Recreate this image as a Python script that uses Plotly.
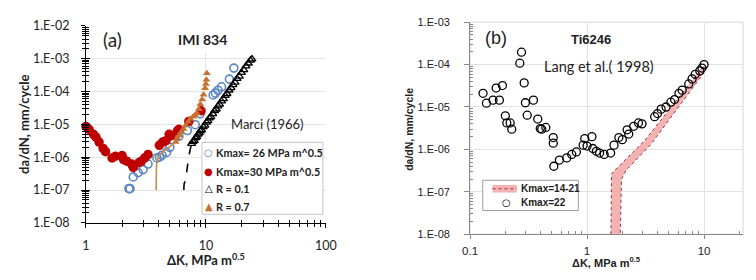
import plotly.graph_objects as go

W, H = 756, 280
def px(x): return x / W
def py(y): return 1 - y / H

# ---------------- data: panel (a) IMI 834 ----------------
k26_K = [2.28, 2.33, 2.48, 2.72, 2.99, 3.29, 3.9, 4.1, 4.3, 4.7, 5.0, 5.95, 7.0, 8.15, 8.95, 11.5, 12.0, 12.6, 13.5, 15.7, 17.1]
k26_da = [1.1e-7, 1.1e-7, 2.5e-7, 3.4e-7, 4.2e-7, 6.2e-7, 9.5e-7, 1.0e-6, 1.15e-6, 1.4e-6, 2.0e-6, 4.3e-6, 6.5e-6, 9.8e-6, 2.1e-5, 7.9e-5, 9.0e-5, 1.1e-4, 1.4e-4, 2.4e-4, 5.2e-4]

k30_K = [1.0, 1.06, 1.155, 1.21, 1.285, 1.39, 1.455, 1.65, 1.76, 2.0, 2.06, 2.19, 2.4, 2.48, 2.77, 2.9, 3.09, 3.29, 4.09, 4.36, 4.65, 4.94, 5.1, 5.78, 5.95, 7.2, 9.1]
k30_da = [8.7e-6, 7.1e-6, 5.0e-6, 4.1e-6, 2.9e-6, 1.86e-6, 1.48e-6, 9.5e-7, 1.07e-6, 1.12e-6, 8.5e-7, 7.6e-7, 6.2e-7, 4.9e-7, 6.9e-7, 7.6e-7, 9.5e-7, 1.2e-6, 2.3e-6, 2.9e-6, 3.2e-6, 5.0e-6, 4.5e-6, 6.3e-6, 7.1e-6, 1.23e-5, 2.6e-5]

r01_K = [7.6, 7.8, 8.0, 8.2, 8.4, 8.6, 8.8, 9.0, 9.2, 9.5, 9.8, 10.1, 10.4, 10.7, 11.0, 11.4, 11.8, 12.2, 12.6, 13.0, 13.5, 14.0, 14.5, 15.0, 15.6, 16.2, 16.8, 17.5, 18.2, 19.0, 19.8, 20.7, 21.6, 22.6, 23.5, 24.2]
r01_da = [2.6e-6, 3.0e-6, 3.2e-6, 3.9e-6, 4.2e-6, 5.0e-6, 5.4e-6, 6.3e-6, 6.8e-6, 8.4e-6, 9.4e-6, 1.15e-5, 1.28e-5, 1.55e-5, 1.7e-5, 2.1e-5, 2.6e-5, 2.9e-5, 3.6e-5, 4.1e-5, 5.1e-5, 6.0e-5, 7.5e-5, 8.6e-5, 1.1e-4, 1.3e-4, 1.6e-4, 1.9e-4, 2.5e-4, 2.9e-4, 3.8e-4, 4.6e-4, 6.0e-4, 7.3e-4, 9.0e-4, 9.8e-4]

r07_K = [5.6, 5.8, 6.0, 6.2, 6.5, 6.8, 7.1, 7.4, 7.8, 8.1, 8.4, 8.75, 9.0, 9.3, 9.55, 9.85, 10.0, 10.1, 10.2]
r07_da = [2.9e-6, 3.8e-6, 4.6e-6, 5.8e-6, 7.2e-6, 9.5e-6, 1.2e-5, 1.45e-5, 1.7e-5, 1.9e-5, 2.2e-5, 2.9e-5, 4.1e-5, 5.7e-5, 8.0e-5, 1.26e-4, 1.7e-4, 2.3e-4, 3.6e-4]

r07_line_K = [3.85, 3.86, 3.88, 3.95, 4.15, 4.5, 5.1, 5.6]
r07_line_da = [1.0e-7, 3.0e-7, 5.5e-7, 8.5e-7, 1.2e-6, 1.6e-6, 2.2e-6, 2.9e-6]

r01_line_K = [6.55, 6.6, 6.75, 6.97, 7.3, 7.6]
r01_line_da = [1.0e-7, 1.6e-7, 1.9e-7, 4.4e-7, 1.35e-6, 2.6e-6]

# ---------------- data: panel (b) Ti6246 ----------------
k22_K = [0.129, 0.138, 0.157, 0.167, 0.178, 0.189, 0.200, 0.206, 0.220, 0.227, 0.266, 0.275, 0.290, 0.297, 0.308,
         0.348, 0.379, 0.398, 0.41, 0.444, 0.514, 0.514, 0.52, 0.58, 0.67, 0.74, 0.81, 0.926, 0.955, 1.0, 1.1, 1.12,
         1.2, 1.28, 1.40, 1.59, 1.70, 1.87, 2.0, 2.2, 2.27, 2.5, 2.75, 2.95, 3.78, 4.0, 4.3, 4.73, 5.2, 5.6, 6.1,
         6.5, 7.4, 7.9, 8.4, 9.2, 9.6, 10.0]
k22_da = [2.1e-5, 1.23e-5, 1.45e-5, 2.8e-5, 1.45e-5, 3.2e-5, 6.2e-6, 4.2e-6, 4.2e-6, 3.0e-6, 1.08e-4, 1.96e-4, 3.7e-5, 1.26e-5, 6.4e-6,
          1.45e-5, 5.2e-6, 3.1e-6, 3.0e-6, 3.3e-6, 1.9e-6, 1.4e-6, 4.0e-7, 5.6e-7, 6.3e-7, 7.6e-7, 8.7e-7, 1.26e-6, 1.8e-6, 1.2e-6, 2.0e-6, 1.05e-6,
          9.0e-7, 8.2e-7, 7.6e-7, 8.2e-7, 1.26e-6, 1.9e-6, 1.7e-6, 2.9e-6, 2.3e-6, 3.5e-6, 4.2e-6, 4.0e-6, 5.9e-6, 7.0e-6, 8.9e-6, 1.0e-5, 1.3e-5, 1.5e-5, 2.1e-5,
          2.5e-5, 3.5e-5, 4.6e-5, 5.9e-5, 7.1e-5, 8.3e-5, 1.0e-4]

band_up_K = [1.60, 1.62, 3.1, 10.0]
band_up_da = [1.0e-8, 2.7e-7, 1.6e-6, 9.5e-5]
band_lo_K = [1.92, 1.97, 2.15, 3.5, 10.0]
band_lo_da = [1.0e-8, 2.0e-7, 3.2e-7, 1.3e-6, 6.5e-5]

y_ticks_a = [1e-8, 1e-7, 1e-6, 1e-5, 1e-4, 1e-3, 1e-2]
y_text_a = ["1.E-08", "1.E-07", "1.E-06", "1.E-05", "1.E-04", "1.E-03", "1.E-02"]
x_ticks_a = [1, 10, 100]
x_text_a = ["1", "10", "100"]
y_ticks_b = [1e-8, 1e-7, 1e-6, 1e-5, 1e-4, 1e-3]
y_text_b = ["1.E-08", "1.E-07", "1.E-06", "1.E-05", "1.E-04", "1.E-03"]
x_ticks_b = [0.1, 1, 10]
x_text_b = ["0.1", "1", "10"]

legend_a = ["Kmax= 26 MPa m^0.5", "Kmax=30 MPa m^0.5", "R = 0.1", "R = 0.7"]
legend_b = ["Kmax=14-21", "Kmax=22"]

# colours
C_BLUE = "#5a86c3"
C_RED = "#c00000"
C_ORANGE = "#c8702d"
C_OLINE = "#c98a4e"
C_BAND = "rgba(238,150,150,0.72)"
C_BANDLINE = "#a0303a"

def minors(lo, hi):
    out = []
    for e in range(lo, hi):
        for m in range(2, 10):
            out.append(m * 10 ** e)
    return out

fig = go.Figure()

# panel (a)
fig.add_trace(go.Scatter(x=k26_K, y=k26_da, mode="markers", xaxis="x", yaxis="y", showlegend=False, cliponaxis=False,
                         marker=dict(symbol="circle-open", size=8, line=dict(color=C_BLUE, width=1.6), color=C_BLUE)))
fig.add_trace(go.Scatter(x=k30_K, y=k30_da, mode="markers", xaxis="x", yaxis="y", showlegend=False, cliponaxis=False,
                         marker=dict(symbol="circle", size=9.5, color=C_RED)))
fig.add_trace(go.Scatter(x=r01_K, y=r01_da, mode="markers", xaxis="x", yaxis="y", showlegend=False, cliponaxis=False,
                         marker=dict(symbol="triangle-up-open", size=7, color="black", line=dict(color="black", width=1.3))))
fig.add_trace(go.Scatter(x=r07_K, y=r07_da, mode="markers", xaxis="x", yaxis="y", showlegend=False, cliponaxis=False,
                         marker=dict(symbol="triangle-up", size=7, color=C_ORANGE)))
fig.add_trace(go.Scatter(x=r01_line_K, y=r01_line_da, mode="lines", xaxis="x", yaxis="y", showlegend=False,
                         line=dict(color="black", width=1.6, dash="dash", shape="spline")))
fig.add_trace(go.Scatter(x=r07_line_K, y=r07_line_da, mode="lines", xaxis="x", yaxis="y", showlegend=False,
                         line=dict(color=C_OLINE, width=1.6, shape="spline")))
# empty trace on overlay axes (inner half of the crossing ticks)
fig.add_trace(go.Scatter(x=[], y=[], xaxis="x3", yaxis="y3", showlegend=False))

# panel (b)
fig.add_trace(go.Scatter(x=band_up_K + band_lo_K[::-1], y=band_up_da + band_lo_da[::-1], mode="lines",
                         xaxis="x2", yaxis="y2", fill="toself", fillcolor=C_BAND, showlegend=False,
                         line=dict(color=C_BANDLINE, width=1, dash="dot"), name=legend_b[0]))
fig.add_trace(go.Scatter(x=k22_K, y=k22_da, mode="markers", xaxis="x2", yaxis="y2", name=legend_b[1], showlegend=False,
                         marker=dict(symbol="circle-open", size=8, color="black", line=dict(color="black", width=1.3))))

FA = "Lato"
FB = "Liberation Sans"

axis_a_common = dict(type="log", showline=True, linecolor="black", linewidth=1, ticks="outside", ticklen=4,
                     tickcolor="black", tickwidth=1, zeroline=False, tickfont=dict(family=FA, size=12.5, color="#222"),
                     gridcolor="#e4e4e4", gridwidth=1)
fig.update_layout(
    width=W, height=H, margin=dict(l=0, r=0, t=0, b=0), paper_bgcolor="white", plot_bgcolor="white",
    showlegend=False,
    xaxis=dict(axis_a_common, domain=[px(80), px(326)], range=[0, 2], anchor="y",
               tickmode="array", tickvals=x_ticks_a, ticktext=x_text_a, ticklabelstandoff=7,
               minor=dict(tickmode="array", tickvals=minors(0, 2), ticks="outside", ticklen=3, tickcolor="black", showgrid=False)),
    yaxis=dict(axis_a_common, domain=[py(227), py(19)], range=[-8, -2], anchor="x",
               tickmode="array", tickvals=y_ticks_a, ticktext=y_text_a, ticklabelstandoff=9,
               minor=dict(tickmode="array", tickvals=minors(-8, -2), ticks="outside", ticklen=3, tickcolor="black", showgrid=False)),
    xaxis3=dict(type="log", range=[0, 2], overlaying="x", anchor="y3", side="bottom", showline=False, showgrid=False,
                zeroline=False, showticklabels=False, ticks="inside", ticklen=4, tickcolor="black",
                tickmode="array", tickvals=x_ticks_a,
                minor=dict(tickmode="array", tickvals=minors(0, 2), ticks="inside", ticklen=3, tickcolor="black")),
    yaxis3=dict(type="log", range=[-8, -2], overlaying="y", anchor="x3", side="left", showline=False, showgrid=False,
                zeroline=False, showticklabels=False, ticks="inside", ticklen=4, tickcolor="black",
                tickmode="array", tickvals=y_ticks_a,
                minor=dict(tickmode="array", tickvals=minors(-8, -2), ticks="inside", ticklen=3, tickcolor="black")),
    xaxis2=dict(type="log", domain=[px(474), px(754)], range=[-1, 1.3333], anchor="y2", showline=True,
                linecolor="#8a8a8a", linewidth=1, ticks="outside", ticklen=4, tickcolor="#8a8a8a", zeroline=False,
                tickmode="array", tickvals=x_ticks_b, ticktext=x_text_b, ticklabelstandoff=2,
                tickfont=dict(family=FB, size=11.5, color="#222"), gridcolor="#e2e2e2",
                minor=dict(tickmode="array", tickvals=minors(-1, 2), ticks="inside", ticklen=3, tickcolor="#8a8a8a", showgrid=False)),
    yaxis2=dict(type="log", domain=[py(239), py(15)], range=[-8, -3], anchor="x2", showline=True,
                linecolor="#8a8a8a", linewidth=1, ticks="outside", ticklen=5, tickcolor="#8a8a8a", zeroline=False,
                tickmode="array", tickvals=y_ticks_b, ticktext=y_text_b, ticklabelstandoff=12,
                tickfont=dict(family=FB, size=11, color="#222"), gridcolor="#e2e2e2",
                minor=dict(tickmode="array", tickvals=minors(-8, -3), ticks="inside", ticklen=3, tickcolor="#8a8a8a", showgrid=False)),
)

# border for panel (b)
fig.add_shape(type="rect", xref="x2 domain", yref="y2 domain", x0=0, x1=1, y0=0, y1=1,
              line=dict(color="#d8d8d8", width=1), layer="below")

ann = []
def A(text, x, y, size, fam, color="#222", xanchor="center", **kw):
    d = dict(text=text, x=px(x), y=py(y), xref="paper", yref="paper", showarrow=False,
             xanchor=xanchor, yanchor="middle", font=dict(family=fam, size=size, color=color))
    d.update(kw)
    ann.append(d)

# panel (a) texts
A("(a)", 107, 33, 19, FA, bgcolor="white")
A("<b>IMI 834</b>", 200, 33, 14, FA, bgcolor="white", borderpad=5)
A("Marci (1966)", 266, 123, 13, FA)
A("<b>da/dN, mm/cycle</b>", 17, 123, 13, FA, textangle=-90)
A("<b>ΔK, MPa m<sup>0.5</sup></b>", 203, 266, 13, FA)

# panel (a) legend
fig.add_shape(type="rect", xref="paper", yref="paper", x0=px(199), x1=px(323), y0=py(218), y1=py(142),
              line=dict(color="#c4c4c4", width=1), fillcolor="white", layer="above")
leg_y = [152.7, 172.3, 191, 209.3]
leg_sym = ["○", "●", "△", "▲"]
leg_col = [C_BLUE, C_RED, "black", C_ORANGE]
for i in range(4):
    A(leg_sym[i], 206, leg_y[i], 10, "DejaVu Sans", color=leg_col[i])
    A("<b>" + legend_a[i] + "</b>", 211.5, leg_y[i], 10.8, FA, xanchor="left")

# panel (b) texts
A("(b)", 501, 32, 18, FB)
A("<b>Ti6246</b>", 598, 33, 13, FB)
A("Lang et al.( 1998)", 606, 62, 14.5, FA)
A("<b>da/dN, mm/cycle</b>", 411, 128, 10.5, FB, textangle=-90)
A("<b>ΔK, MPa m<sup>0.5</sup></b>", 614, 268, 11, FB)

# panel (b) legend
fig.add_shape(type="rect", xref="paper", yref="paper", x0=px(487), x1=px(585), y0=py(214), y1=py(182),
              line=dict(color="#9a9a9a", width=1), fillcolor="white", layer="above")
fig.add_shape(type="rect", xref="paper", yref="paper", x0=px(497), x1=px(522), y0=py(195), y1=py(187),
              line=dict(width=0), fillcolor=C_BAND, layer="above")
fig.add_shape(type="line", xref="paper", yref="paper", x0=px(497), x1=px(522), y0=py(191), y1=py(191),
              line=dict(color=C_BANDLINE, width=1, dash="dot"), layer="above")
A("<b>" + legend_b[0] + "</b>", 524, 191, 10, FB, xanchor="left")
A("○", 511, 206, 10, "DejaVu Sans", color="black")
A("<b>" + legend_b[1] + "</b>", 524, 206, 10, FB, xanchor="left")

fig.update_layout(annotations=ann)
fig.write_html("out.html")
